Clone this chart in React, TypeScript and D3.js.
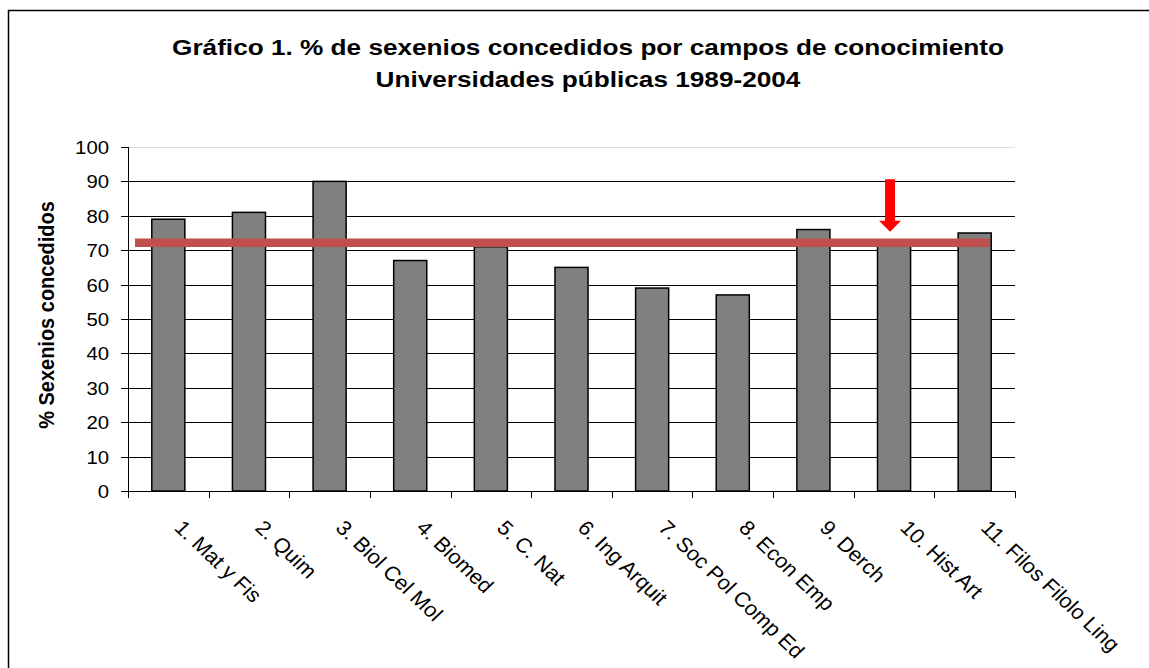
import * as d3 from 'd3'

const categories = [
  '1. Mat y Fis',
  '2. Quim',
  '3. Biol Cel Mol',
  '4. Biomed',
  '5. C. Nat',
  '6. Ing Arquit',
  '7. Soc Pol Comp Ed',
  '8. Econ Emp',
  '9. Derch',
  '10. Hist Art',
  '11. Filos Filolo Ling',
]
const values = [79, 81, 90, 67, 71, 65, 59, 57, 76, 72, 75]
const yTicks = [0, 10, 20, 30, 40, 50, 60, 70, 80, 90, 100]
const averageValue = 72.2
const highlighted = '10. Hist Art'
const titleLines = [
  'Gráfico 1. % de sexenios concedidos por campos de conocimiento',
  'Universidades públicas 1989-2004',
]
const yTitle = '% Sexenios concedidos'

const W = 1149
const H = 668
const plot = { left: 128, right: 1015, top: 147, bottom: 491 }
const font = 'Arial, "Liberation Sans", sans-serif'
// the reference text is a bit wider than plain Arial
const sx = 1.11

export default function App() {
  const x = d3
    .scaleBand()
    .domain(categories)
    .range([plot.left, plot.right])
    .paddingInner(0.59)
    .paddingOuter(0.295)

  const y = d3.scaleLinear().domain([0, 100]).range([plot.bottom, plot.top])

  const step = x.step()
  const bounds = d3.range(categories.length + 1).map((i) => plot.left + i * step)

  const avgY = y(averageValue)
  const arrowX = (x(highlighted) ?? 0) + x.bandwidth() / 2 - 4
  const arrowTip = avgY - 11
  const arrowTop = y(90.6)
  const headH = 11
  const arrowPath = [
    [arrowX - 5, arrowTop],
    [arrowX + 5, arrowTop],
    [arrowX + 5, arrowTip - headH],
    [arrowX + 11, arrowTip - headH],
    [arrowX, arrowTip],
    [arrowX - 11, arrowTip - headH],
    [arrowX - 5, arrowTip - headH],
  ]

  return (
    <svg
      width={W}
      height={H}
      style={{ position: 'absolute', left: 0, top: 0, background: '#fff' }}
      fontFamily={font}
    >
      <rect x={8.5} y={10.5} width={W + 10} height={H + 10} fill="#fff" stroke="#000" strokeWidth={1.5} />

      {titleLines.map((t, i) => (
        <text
          key={t}
          transform={`translate(588,${55 + i * 32}) scale(1.19,1)`}
          textAnchor="middle"
          fontSize={22}
          fontWeight="bold"
        >
          {t}
        </text>
      ))}

      {/* grid */}
      {yTicks.map((t) => (
        <line
          key={t}
          x1={plot.left}
          x2={plot.right}
          y1={Math.round(y(t)) + 0.5}
          y2={Math.round(y(t)) + 0.5}
          stroke={t === 100 ? '#ddd' : '#000'}
          strokeWidth={1}
        />
      ))}

      {/* y axis */}
      <line x1={plot.left + 0.5} x2={plot.left + 0.5} y1={plot.top} y2={plot.bottom} stroke="#000" />
      {yTicks.map((t) => (
        <g key={t} transform={`translate(0,${Math.round(y(t)) + 0.5})`}>
          <line x1={plot.left - 7} x2={plot.left} stroke="#000" />
          <text
            transform={`translate(${plot.left - 19},0) scale(1.13,1)`}
            dy="0.35em"
            textAnchor="end"
            fontSize={18}
          >
            {t}
          </text>
        </g>
      ))}
      <text
        transform={`translate(54,${(plot.top + plot.bottom) / 2 - 4}) scale(${sx},1) rotate(-90)`}
        textAnchor="middle"
        fontSize={20}
        fontWeight="bold"
      >
        {yTitle}
      </text>

      {/* bars */}
      {categories.map((c, i) => (
        <rect
          key={c}
          x={x(c)}
          y={y(values[i])}
          width={x.bandwidth()}
          height={plot.bottom - y(values[i])}
          fill="#808080"
          stroke="#000"
          strokeWidth={1.5}
        />
      ))}

      {/* x axis */}
      <line x1={plot.left} x2={plot.right} y1={plot.bottom + 0.5} y2={plot.bottom + 0.5} stroke="#000" />
      {bounds.map((b, i) => (
        <line key={i} x1={Math.round(b) + 0.5} x2={Math.round(b) + 0.5} y1={plot.bottom} y2={plot.bottom + 7} stroke="#000" />
      ))}
      {categories.map((c) => {
        const cx = (x(c) ?? 0) + x.bandwidth() / 2 + 5
        return (
          <text
            key={c}
            transform={`translate(${cx},${plot.bottom + 38}) scale(1.06,1) rotate(45)`}
            fontSize={20.5}
          >
            {c}
          </text>
        )
      })}

      {/* average line */}
      <line x1={plot.left + 7} x2={plot.right - 25} y1={avgY} y2={avgY} stroke="#C0504D" strokeWidth={8.5} />

      {/* arrow */}
      <polygon points={arrowPath.map((p) => p.join(',')).join(' ')} fill="#FF0000" />
    </svg>
  )
}
